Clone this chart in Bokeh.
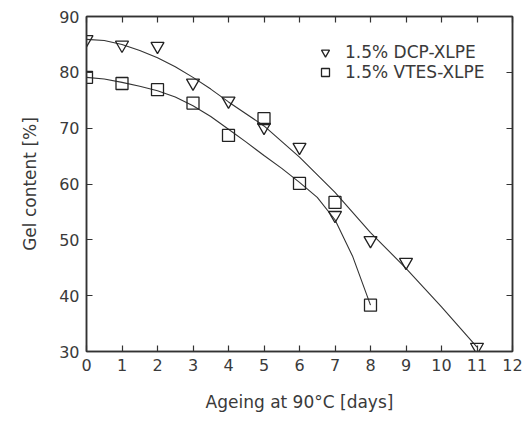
from bokeh.plotting import figure
from bokeh.models import Range1d, FixedTicker, LinearAxis, Legend, LegendItem, CustomJSTickFormatter
from bokeh.embed import file_html
from bokeh.resources import INLINE

# data
days_dcp = [0, 1, 2, 3, 4, 5, 6, 7, 8, 9, 11]
gel_dcp = [85.9, 84.9, 84.7, 78.1, 74.9, 70.2, 66.6, 54.4, 49.9, 46.0, 30.8]
days_vtes = [0, 1, 2, 3, 4, 5, 6, 7, 8]
gel_vtes = [79.1, 78.0, 76.9, 74.5, 68.7, 71.7, 60.1, 56.7, 38.3]

# fitted curves
fit_dcp_x = [0, 0.5, 1, 1.5, 2, 2.5, 3, 3.5, 4, 5, 6, 7, 8, 9, 10, 11]
fit_dcp_y = [85.9, 85.7, 85.0, 83.9, 82.6, 81.0, 79.1, 77.0, 74.7, 70.4, 64.8, 58.5, 51.3, 44.9, 38.0, 30.8]
fit_vtes_x = [0, 0.5, 1, 1.5, 2, 2.5, 3, 3.5, 4, 4.5, 5, 5.5, 6, 6.5, 7, 7.5, 8]
fit_vtes_y = [79.1, 78.8, 78.2, 77.5, 76.7, 75.6, 74.0, 72.1, 69.8, 67.5, 65.1, 62.8, 60.3, 57.6, 53.6, 47.0, 38.3]

x_ticks = list(range(0, 13))
y_ticks = [30, 40, 50, 60, 70, 80, 90]

FONT = "DejaVu Sans"
TXT = "#3a3a3a"

p = figure(width=524, height=415, output_backend="svg", toolbar_location=None,
           x_range=Range1d(0, 12), y_range=Range1d(30, 90),
           min_border_left=86, min_border_right=12, min_border_top=16, min_border_bottom=64)
p.xgrid.visible = False
p.ygrid.visible = False
p.outline_line_color = "#333333"
p.outline_line_width = 1.5
p.background_fill_color = "white"
p.border_fill_color = "white"

for ax, ticks in ((p.xaxis[0], x_ticks), (p.yaxis[0], y_ticks)):
    ax.ticker = FixedTicker(ticks=ticks)
    ax.major_tick_in = 6
    ax.major_tick_out = 0
    ax.minor_tick_in = 0
    ax.minor_tick_out = 0
    ax.major_tick_line_color = "#333333"
    ax.major_tick_line_width = 1.2
    ax.axis_line_color = "#333333"
    ax.axis_line_width = 1.5
    ax.major_label_text_font = FONT
    ax.major_label_text_font_size = "16px"
    ax.major_label_text_color = TXT
    ax.axis_label_text_font = FONT
    ax.axis_label_text_font_size = "17px"
    ax.axis_label_text_font_style = "normal"
    ax.axis_label_text_color = TXT

p.xaxis.axis_label = "Ageing at 90°C [days]"
p.yaxis.axis_label = "Gel content [%]"
p.xaxis.major_label_standoff = 7
p.xaxis.axis_label_standoff = 18
p.yaxis.major_label_standoff = 7
p.yaxis.axis_label_standoff = 16

blank = CustomJSTickFormatter(code="return ''")
for loc, ticks in (("above", x_ticks), ("right", y_ticks)):
    ax = LinearAxis(ticker=FixedTicker(ticks=ticks), formatter=blank,
                    major_tick_in=6, major_tick_out=0, minor_tick_in=0, minor_tick_out=0,
                    major_tick_line_color="#333333", major_tick_line_width=1.2,
                    axis_line_color="#333333", axis_line_width=1.5, major_label_standoff=0)
    p.add_layout(ax, loc)

p.line(fit_dcp_x, fit_dcp_y, line_color="#333333", line_width=1.1)
p.line(fit_vtes_x, fit_vtes_y, line_color="#333333", line_width=1.1)

r1 = p.scatter(days_dcp, gel_dcp, marker="inverted_triangle", size=13,
               fill_color=None, line_color="#222222", line_width=1.3)
r2 = p.scatter(days_vtes, gel_vtes, marker="square", size=12,
               fill_color=None, line_color="#222222", line_width=1.3)

legend = Legend(items=[LegendItem(label="1.5% DCP-XLPE", renderers=[r1]),
                       LegendItem(label="1.5% VTES-XLPE", renderers=[r2])],
                location=(229, 269), padding=0, spacing=0, margin=0,
                label_height=20, glyph_height=20, glyph_width=20, label_standoff=10,
                label_text_font=FONT, label_text_font_size="17px", label_text_color=TXT,
                border_line_color=None, background_fill_alpha=0)
p.add_layout(legend)

open("out.html", "w").write(file_html(p, INLINE))
